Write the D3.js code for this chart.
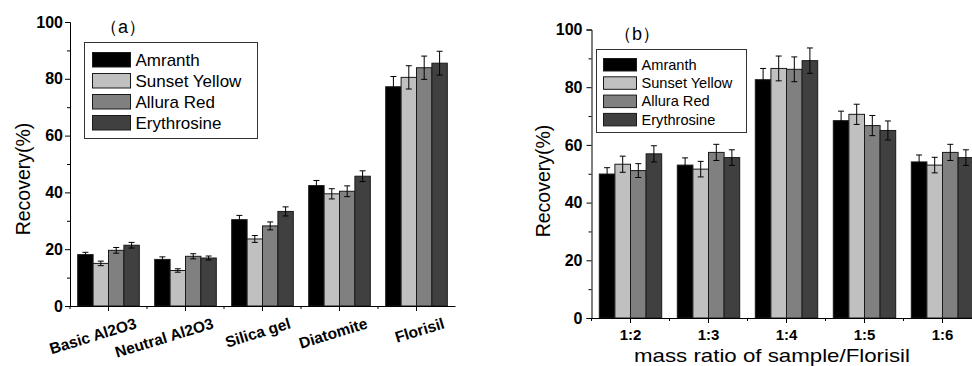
<!DOCTYPE html>
<html>
<head>
<meta charset="utf-8">
<script src="https://cdn.jsdelivr.net/npm/d3@7"></script>
<style>
  body { margin: 0; background: #fff; }
  text { font-family: "Liberation Sans", Arial, sans-serif; }
</style>
</head>
<body>
<div id="chart"></div>
<script>
// series and categories
const seriesNames = ["Amranth", "Sunset Yellow", "Allura Red", "Erythrosine"];
const sorbents = ["Basic Al2O3", "Neutral Al2O3", "Silica gel", "Diatomite", "Florisil"];
const ratios = ["1:2", "1:3", "1:4", "1:5", "1:6"];
const yTicks = [0, 20, 40, 60, 80, 100];

// panel (a): recovery by sorbent
const amranthA = [18.1, 16.4, 30.4, 42.4, 77.2];
const sunsetA = [15.0, 12.5, 23.6, 39.5, 80.5];
const alluraA = [19.6, 17.5, 28.2, 40.4, 83.9];
const erythA = [21.4, 16.9, 33.3, 45.7, 85.5];
const amranthErrA = [0.8, 0.9, 1.5, 1.8, 3.6];
const sunsetErrA = [0.8, 0.6, 1.2, 1.8, 4.1];
const alluraErrA = [1.0, 0.9, 1.4, 1.9, 4.1];
const erythErrA = [1.0, 0.7, 1.6, 1.9, 4.2];

// panel (b): recovery by mass ratio
const amranthB = [49.9, 53.0, 82.6, 68.4, 54.1];
const sunsetB = [53.3, 51.6, 86.5, 70.6, 53.0];
const alluraB = [51.1, 57.4, 86.2, 66.7, 57.4];
const erythB = [56.9, 55.6, 89.2, 65.0, 55.6];
const amranthErrB = [2.2, 2.5, 3.9, 3.3, 2.4];
const sunsetErrB = [2.8, 2.7, 4.3, 3.5, 2.7];
const alluraErrB = [2.4, 2.8, 4.3, 3.5, 2.8];
const erythErrB = [2.8, 2.7, 4.4, 3.3, 2.7];

const fills = ["#000000", "#c0c0c0", "#808080", "#404040"];

const svg = d3.select("#chart").append("svg")
    .attr("width", 972)
    .attr("height", 366);

function drawPanel(p) {
    const g = svg.append("g");

    const x0 = d3.scaleBand()
        .domain(p.categories)
        .range([p.left, p.right])
        .paddingInner(0.2)
        .paddingOuter(0.1);
    const x1 = d3.scaleBand()
        .domain(seriesNames)
        .range([0, x0.bandwidth()]);
    const y = d3.scaleLinear().domain([0, 100]).range([p.bottom, p.top]);

    // bars
    p.values.forEach((vals, si) => {
        g.selectAll(null)
            .data(vals)
            .enter().append("rect")
            .attr("x", (d, i) => x0(p.categories[i]) + x1(seriesNames[si]))
            .attr("y", d => y(d))
            .attr("width", x1.bandwidth())
            .attr("height", d => y(0) - y(d))
            .attr("fill", fills[si])
            .attr("stroke", "#1a1a1a")
            .attr("stroke-width", 1);
    });

    // error bars
    p.values.forEach((vals, si) => {
        vals.forEach((v, i) => {
            const cx = x0(p.categories[i]) + x1(seriesNames[si]) + x1.bandwidth() / 2;
            const e = p.errors[si][i];
            const eg = g.append("g").attr("stroke", "#000").attr("stroke-width", 1);
            eg.append("line").attr("x1", cx).attr("x2", cx).attr("y1", y(v - e)).attr("y2", y(v + e));
            eg.append("line").attr("x1", cx - 3).attr("x2", cx + 3).attr("y1", y(v - e)).attr("y2", y(v - e));
            eg.append("line").attr("x1", cx - 3).attr("x2", cx + 3).attr("y1", y(v + e)).attr("y2", y(v + e));
        });
    });

    // y axis
    const yAxis = g.append("g").attr("transform", `translate(${p.left},0)`)
        .call(d3.axisLeft(y).tickValues(yTicks).tickSize(5).tickFormat(d3.format("d")));
    yAxis.select(".domain").attr("stroke", "#000");
    yAxis.selectAll(".tick text")
        .attr("x", -p.yLabelGap)
        .attr("font-size", 16)
        .attr("font-weight", "bold")
        .attr("font-family", "Liberation Sans, Arial, sans-serif")
        .attr("fill", "#000");
    g.append("g").attr("transform", `translate(${p.left},0)`)
        .call(d3.axisLeft(y).tickValues([10, 30, 50, 70, 90]).tickSize(3).tickFormat(""))
        .select(".domain").remove();

    // x axis
    const xAxis = g.append("g").attr("transform", `translate(0,${p.bottom})`)
        .call(d3.axisBottom(x0).tickSize(5).tickSizeOuter(0));
    xAxis.select(".domain").attr("stroke", "#000");
    const bounds = p.categories.map((c, i) => p.left + x0.step() * i);
    g.selectAll(null).data(bounds).enter().append("line")
        .attr("x1", d => d).attr("x2", d => d)
        .attr("y1", p.bottom).attr("y2", p.bottom + 3)
        .attr("stroke", "#000");

    const xt = xAxis.selectAll(".tick text")
        .attr("font-size", p.rotate ? 15.5 : 15)
        .attr("font-weight", "bold")
        .attr("font-family", "Liberation Sans, Arial, sans-serif")
        .attr("fill", "#000");
    if (p.rotate) {
        xt.attr("text-anchor", "end")
            .attr("y", 0).attr("dy", 0)
            .attr("transform", "translate(29,22) rotate(-17)");
    } else {
        xt.attr("y", 0).attr("dy", 0).attr("transform", "translate(0,22)");
    }

    // y title
    g.append("text")
        .attr("transform", `translate(${p.yTitleX},${p.yTitleY}) rotate(-90)`)
        .attr("text-anchor", "middle")
        .attr("font-size", 19.5)
        .text("Recovery(%)");

    // panel label
    g.append("text")
        .attr("x", p.labelX).attr("y", p.labelY)
        .attr("font-family", "Liberation Serif, Noto Sans CJK SC, serif")
        .attr("font-size", 18)
        .text(p.label);

    // legend
    const L = p.legend;
    g.append("rect")
        .attr("x", L.x).attr("y", L.y).attr("width", L.w).attr("height", L.h)
        .attr("fill", "#fff").attr("stroke", "#333").attr("stroke-width", 1);
    const items = g.selectAll(null).data(seriesNames).enter().append("g")
        .attr("transform", (d, i) => `translate(${L.x + L.pad},${L.y + L.top + i * L.step})`);
    items.append("rect")
        .attr("width", L.sw).attr("height", L.sh)
        .attr("fill", (d, i) => fills[i])
        .attr("stroke", "#1a1a1a");
    items.append("text")
        .attr("x", L.sw + 5).attr("y", L.sh / 2).attr("dy", "0.35em")
        .attr("font-size", L.font)
        .text(d => d);
    return g;
}

drawPanel({
    categories: sorbents,
    values: [amranthA, sunsetA, alluraA, erythA],
    errors: [amranthErrA, sunsetErrA, alluraErrA, erythErrA],
    left: 70, right: 455, top: 22, bottom: 306,
    yLabelGap: 7, rotate: true,
    yTitleX: 29.5, yTitleY: 179,
    label: "（a）", labelX: 100, labelY: 33,
    legend: { x: 84.5, y: 42.5, w: 173, h: 96, pad: 8, top: 10, step: 21, sw: 38, sh: 14.5, font: 17 }
});

const pb = drawPanel({
    categories: ratios,
    values: [amranthB, sunsetB, alluraB, erythB],
    errors: [amranthErrB, sunsetErrB, alluraErrB, erythErrB],
    left: 591.5, right: 981.5, top: 29.5, bottom: 318,
    yLabelGap: 9, rotate: false,
    yTitleX: 549.5, yTitleY: 181,
    label: "（b）", labelX: 614, labelY: 40,
    legend: { x: 596.5, y: 49.5, w: 150, h: 83, pad: 7, top: 9, step: 18.3, sw: 33, sh: 12.5, font: 14.6 }
});

pb.append("text")
    .attr("x", 772).attr("y", 362)
    .attr("text-anchor", "middle")
    .attr("font-size", 19)
    .attr("textLength", 276)
    .attr("lengthAdjust", "spacingAndGlyphs")
    .text("mass ratio of sample/Florisil");
</script>
</body>
</html>
